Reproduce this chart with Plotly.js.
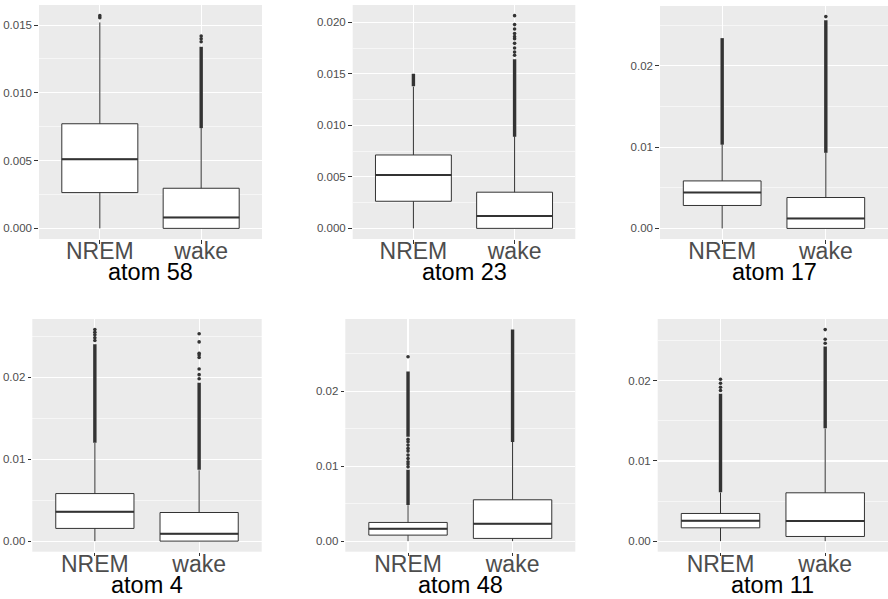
<!DOCTYPE html>
<html>
<head>
<meta charset="utf-8">
<script src="https://cdn.plot.ly/plotly-3.0.1.min.js"></script>
<style>html,body{margin:0;padding:0;background:#fff;}#chart{width:888px;height:599px;}</style>
</head>
<body>
<div id="chart"></div>
<script>
// ---- data ----
const groups = ['NREM', 'wake'];
const atoms = ['atom 58', 'atom 23', 'atom 17', 'atom 4', 'atom 48', 'atom 11'];

// per atom: [NREM, wake]
const lowerWhisker = [[0, 0], [0, 0], [0, 0], [0, 0], [0, 0], [0, 0]];
const q1Values = [[0.00264, 0], [0.00263, 0], [0.00282, 0], [0.00155, 0], [0.0008, 0.00036], [0.00166, 0.00058]];
const medianValues = [[0.00511, 0.00081], [0.00517, 0.0012], [0.00442, 0.00123], [0.00357, 0.00089], [0.00164, 0.00231], [0.00254, 0.0025]];
const q3Values = [[0.00772, 0.00296], [0.00712, 0.00351], [0.00584, 0.0038], [0.0058, 0.00349], [0.00249, 0.00551], [0.00345, 0.00603]];
const upperWhisker = [[0.0152, 0.00743], [0.01376, 0.00894], [0.01034, 0.00933], [0.01197, 0.00864], [0.0048, 0.01324], [0.00607, 0.01406]];

// dense runs of outliers (from, to) per atom per group
const outlierRuns = [
  [[], [[0.0074, 0.0134]]],
  [[[0.0138, 0.0150]], [[0.0089, 0.0164]]],
  [[[0.0103, 0.0234]], [[0.0093, 0.0256]]],
  [[[0.0120, 0.0240]], [[0.0087, 0.0193]]],
  [[[0.0048, 0.0095], [0.0139, 0.0226]], [[0.0132, 0.0282]]],
  [[[0.0061, 0.0184]], [[0.0141, 0.0243]]]
];
// isolated outliers per atom per group
const outlierPoints = [
  [[0.01555, 0.0157], [0.01377, 0.01399, 0.01419]],
  [[], [0.0168, 0.0171, 0.0175, 0.01795, 0.0184, 0.0186, 0.0189, 0.01935, 0.01977, 0.02064]],
  [[], [0.02605]],
  [[0.02447, 0.0248, 0.02516, 0.02548, 0.0258], [0.0198, 0.0203, 0.0210, 0.0224, 0.0227, 0.0229, 0.0243, 0.0253]],
  [[0.0099, 0.01027, 0.01058, 0.01102, 0.01147, 0.012, 0.01236, 0.0128, 0.01324, 0.01356, 0.02458], []],
  [[0.0188, 0.0192, 0.0197, 0.0202], [0.0247, 0.0252, 0.0264]]
];

// ---- layout geometry (pixels) ----
const W = 888, H = 599;
const panelPx = [
  [39, 262, 5, 239], [352.7, 575.3, 5, 239], [660, 888, 6, 239],
  [32.3, 261.7, 319, 551.7], [345.3, 575.3, 319, 551.7], [657.7, 888, 319, 551.7]
];
const titleMidPx = [272, 272, 272, 585, 585, 585];
const dticks = [0.005, 0.005, 0.01, 0.01, 0.01, 0.01];
const tickFormats = ['.3f', '.3f', '.2f', '.2f', '.2f', '.2f'];

const FONT = 'Liberation Sans, Arial, sans-serif';
const INK = '#333333';
const traces = [];
const annotations = [];
const layout = {
  width: W, height: H,
  margin: {l: 0, r: 0, t: 0, b: 0},
  paper_bgcolor: '#ffffff',
  plot_bgcolor: '#EBEBEB',
  showlegend: false,
  font: {family: FONT},
  annotations: annotations
};

const BOXW = 0.75;
atoms.forEach((atom, k) => {
  const sfx = k === 0 ? '' : String(k + 1);
  const xa = 'x' + sfx, ya = 'y' + sfx;
  const pos = groups.map((g, i) => i);

  traces.push({
    type: 'box', xaxis: xa, yaxis: ya,
    x: pos,
    q1: q1Values[k], median: medianValues[k], q3: q3Values[k],
    lowerfence: lowerWhisker[k], upperfence: upperWhisker[k],
    width: BOXW, whiskerwidth: 0, boxpoints: false,
    fillcolor: '#ffffff', line: {color: INK, width: 1},
    hoverinfo: 'skip'
  });

  // thicker median line like ggplot
  const mx = [], my = [];
  pos.forEach((p, i) => {
    mx.push(p - BOXW / 2, p + BOXW / 2, null);
    my.push(medianValues[k][i], medianValues[k][i], null);
  });
  traces.push({type: 'scatter', mode: 'lines', xaxis: xa, yaxis: ya, x: mx, y: my,
    line: {color: INK, width: 2}, hoverinfo: 'skip'});

  // dense outlier runs
  const rx = [], ry = [];
  pos.forEach((p, i) => {
    outlierRuns[k][i].forEach(r => { rx.push(p, p, null); ry.push(r[0], r[1], null); });
  });
  traces.push({type: 'scatter', mode: 'lines', xaxis: xa, yaxis: ya, x: rx, y: ry,
    line: {color: INK, width: 3.4}, hoverinfo: 'skip'});

  // isolated outliers
  const px = [], py = [];
  pos.forEach((p, i) => {
    outlierPoints[k][i].forEach(v => { px.push(p); py.push(v); });
  });
  traces.push({type: 'scatter', mode: 'markers', xaxis: xa, yaxis: ya, x: px, y: py,
    marker: {color: INK, size: 3.6}, hoverinfo: 'skip'});

  // y range: ggplot 5% expansion from data extent
  let ymax = 0, ymin = 0;
  for (let i = 0; i < groups.length; i++) {
    ymax = Math.max(ymax, upperWhisker[k][i], ...outlierPoints[k][i], ...outlierRuns[k][i].map(r => r[1]));
    ymin = Math.min(ymin, lowerWhisker[k][i]);
  }
  const span = ymax - ymin;

  const [x0, x1, t0, b0] = panelPx[k];
  layout['xaxis' + sfx] = {
    domain: [x0 / W, x1 / W], anchor: ya,
    range: [-0.6, 1.6], tickvals: pos, ticktext: groups,
    showgrid: true, gridcolor: '#ffffff', gridwidth: 1.1, zeroline: false, showline: false,
    ticks: 'outside', ticklen: 3.7, tickwidth: 1, tickcolor: INK,
    ticklabelstandoff: -12,
    tickfont: {size: 23, color: '#4d4d4d', family: FONT},
    fixedrange: true
  };
  layout['yaxis' + sfx] = {
    domain: [1 - b0 / H, 1 - t0 / H], anchor: xa,
    range: [ymin - 0.05 * span, ymax + 0.05 * span],
    tick0: 0, dtick: dticks[k], tickformat: tickFormats[k],
    showgrid: true, gridcolor: '#ffffff', gridwidth: 1.1, zeroline: false, showline: false,
    minor: {dtick: dticks[k] / 2, tick0: 0, showgrid: true, gridcolor: '#ffffff', gridwidth: 0.55, ticks: ''},
    ticks: 'outside', ticklen: 3.7, tickwidth: 1, tickcolor: INK,
    tickfont: {size: 11.5, color: '#4d4d4d', family: FONT},
    fixedrange: true
  };

  // x-axis title (atom name) under each panel
  annotations.push({
    text: atom, showarrow: false,
    xref: 'paper', yref: 'paper',
    x: ((x0 + x1) / 2) / W, y: 1 - titleMidPx[k] / H,
    xanchor: 'center', yanchor: 'middle',
    font: {size: 23.5, color: '#000000', family: FONT}
  });
});

Plotly.newPlot('chart', traces, layout, {staticPlot: true, displayModeBar: false});
</script>
</body>
</html>
